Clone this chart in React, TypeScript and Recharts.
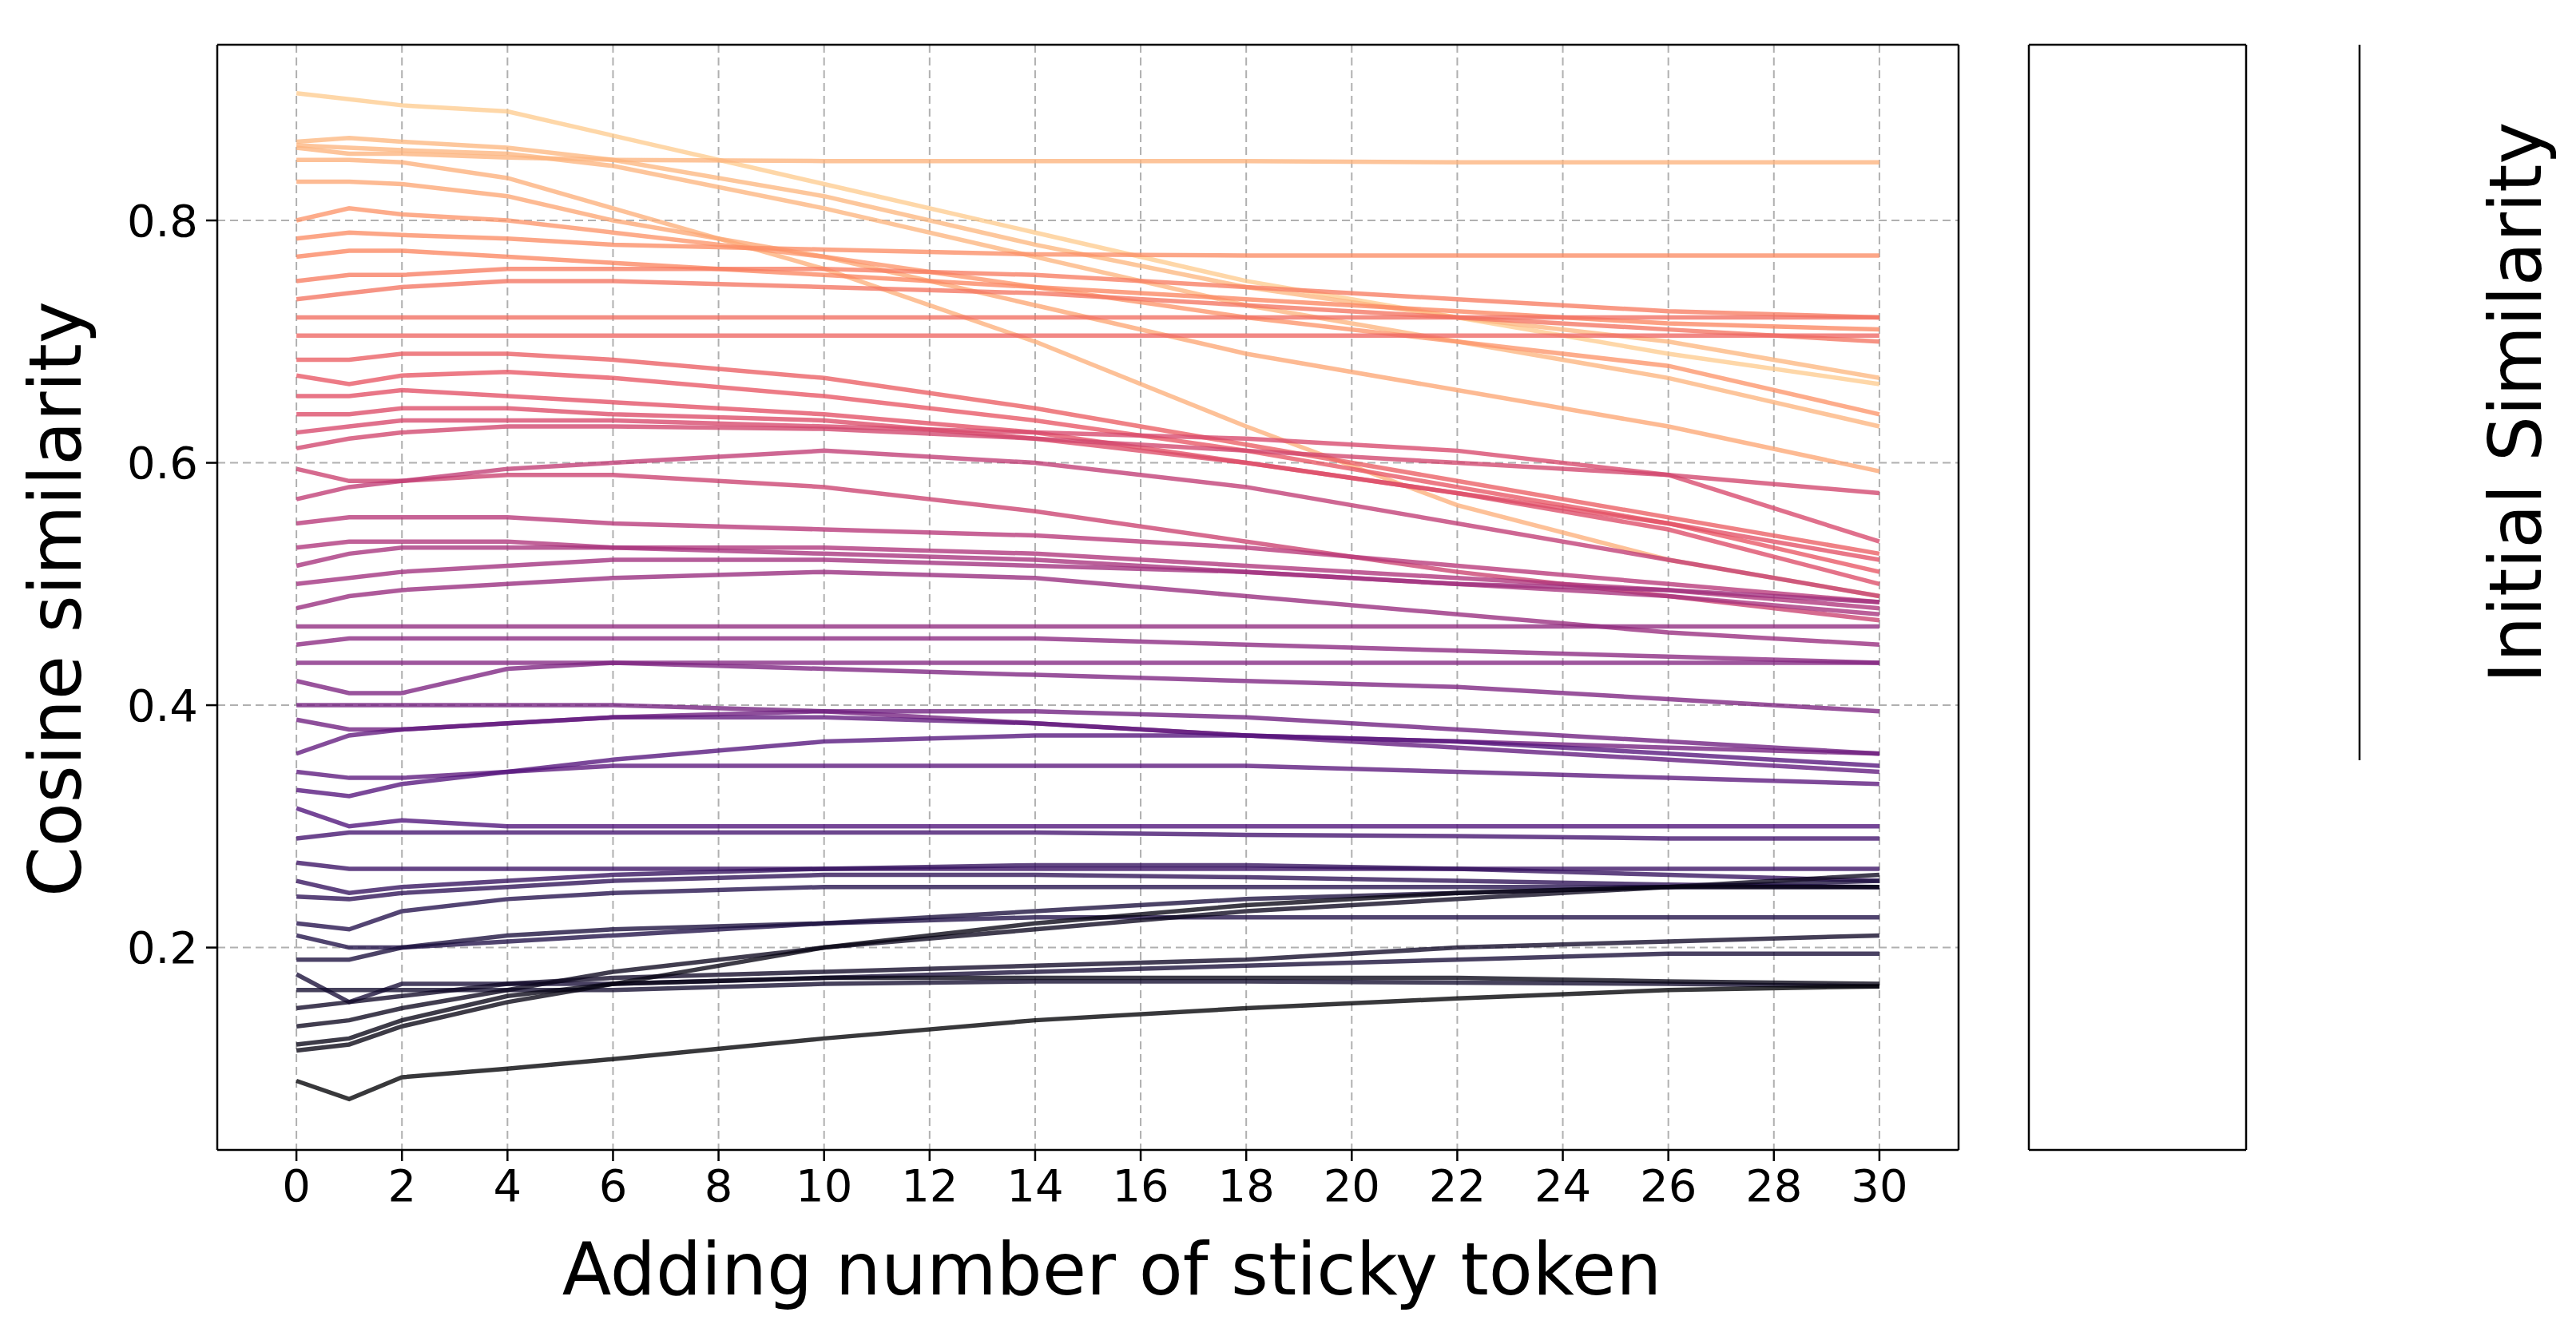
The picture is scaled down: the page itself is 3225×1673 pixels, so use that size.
import { LineChart, Line, XAxis, YAxis, CartesianGrid, ComposedChart, ReferenceArea, ReferenceLine } from 'recharts';

// sample positions along x (number of sticky tokens added)
const steps = [0, 1, 2, 4, 6, 10, 14, 18, 22, 26, 30];

// cosine similarity curves, one per token pair
const curves: number[][] = [
  [0.905, 0.9, 0.895, 0.89, 0.87, 0.83, 0.79, 0.75, 0.72, 0.69, 0.665],
  [0.865, 0.868, 0.865, 0.86, 0.85, 0.82, 0.78, 0.745, 0.72, 0.7, 0.67],
  [0.86, 0.855, 0.855, 0.852, 0.85, 0.849, 0.849, 0.849, 0.848, 0.848, 0.848],
  [0.862, 0.86, 0.858, 0.855, 0.845, 0.81, 0.77, 0.73, 0.7, 0.67, 0.63],
  [0.85, 0.85, 0.848, 0.835, 0.81, 0.76, 0.7, 0.63, 0.565, 0.52, 0.49],
  [0.832, 0.832, 0.83, 0.82, 0.8, 0.77, 0.73, 0.69, 0.66, 0.63, 0.593],
  [0.8, 0.81, 0.805, 0.8, 0.79, 0.77, 0.745, 0.72, 0.7, 0.68, 0.64],
  [0.785, 0.79, 0.788, 0.785, 0.78, 0.776, 0.772, 0.771, 0.771, 0.771, 0.771],
  [0.77, 0.775, 0.775, 0.77, 0.765, 0.755, 0.745, 0.735, 0.725, 0.715, 0.71],
  [0.75, 0.755, 0.755, 0.76, 0.76, 0.76, 0.755, 0.745, 0.735, 0.725, 0.72],
  [0.735, 0.74, 0.745, 0.75, 0.75, 0.745, 0.74, 0.73, 0.72, 0.71, 0.7],
  [0.72, 0.72, 0.72, 0.72, 0.72, 0.72, 0.72, 0.72, 0.72, 0.72, 0.72],
  [0.705, 0.705, 0.705, 0.705, 0.705, 0.705, 0.705, 0.705, 0.705, 0.705, 0.705],
  [0.685, 0.685, 0.69, 0.69, 0.685, 0.67, 0.645, 0.615, 0.585, 0.555, 0.525],
  [0.672, 0.665, 0.672, 0.675, 0.67, 0.655, 0.635, 0.61, 0.58, 0.55, 0.51],
  [0.655, 0.655, 0.66, 0.655, 0.65, 0.64, 0.625, 0.6, 0.575, 0.55, 0.52],
  [0.64, 0.64, 0.645, 0.645, 0.64, 0.635, 0.62, 0.6, 0.575, 0.545, 0.5],
  [0.625, 0.63, 0.635, 0.635, 0.635, 0.63, 0.625, 0.62, 0.61, 0.59, 0.535],
  [0.612, 0.62, 0.625, 0.63, 0.63, 0.628, 0.62, 0.61, 0.6, 0.59, 0.575],
  [0.595, 0.585, 0.585, 0.59, 0.59, 0.58, 0.56, 0.535, 0.51, 0.49, 0.47],
  [0.57, 0.58, 0.585, 0.595, 0.6, 0.61, 0.6, 0.58, 0.55, 0.52, 0.49],
  [0.55, 0.555, 0.555, 0.555, 0.55, 0.545, 0.54, 0.53, 0.515, 0.5, 0.485],
  [0.53, 0.535, 0.535, 0.535, 0.53, 0.53, 0.525, 0.515, 0.505, 0.495, 0.48],
  [0.515, 0.525, 0.53, 0.53, 0.53, 0.525, 0.52, 0.51, 0.5, 0.49, 0.475],
  [0.5, 0.505, 0.51, 0.515, 0.52, 0.52, 0.515, 0.51, 0.5, 0.495, 0.485],
  [0.48, 0.49, 0.495, 0.5, 0.505, 0.51, 0.505, 0.49, 0.475, 0.46, 0.45],
  [0.465, 0.465, 0.465, 0.465, 0.465, 0.465, 0.465, 0.465, 0.465, 0.465, 0.465],
  [0.45, 0.455, 0.455, 0.455, 0.455, 0.455, 0.455, 0.45, 0.445, 0.44, 0.435],
  [0.435, 0.435, 0.435, 0.435, 0.435, 0.435, 0.435, 0.435, 0.435, 0.435, 0.435],
  [0.42, 0.41, 0.41, 0.43, 0.435, 0.43, 0.425, 0.42, 0.415, 0.405, 0.395],
  [0.4, 0.4, 0.4, 0.4, 0.4, 0.395, 0.385, 0.375, 0.37, 0.365, 0.36],
  [0.388, 0.38, 0.38, 0.385, 0.39, 0.395, 0.395, 0.39, 0.38, 0.37, 0.36],
  [0.36, 0.375, 0.38, 0.385, 0.39, 0.39, 0.385, 0.375, 0.365, 0.355, 0.345],
  [0.345, 0.34, 0.34, 0.345, 0.35, 0.35, 0.35, 0.35, 0.345, 0.34, 0.335],
  [0.33, 0.325, 0.335, 0.345, 0.355, 0.37, 0.375, 0.375, 0.37, 0.36, 0.35],
  [0.315, 0.3, 0.305, 0.3, 0.3, 0.3, 0.3, 0.3, 0.3, 0.3, 0.3],
  [0.29, 0.295, 0.295, 0.295, 0.295, 0.295, 0.295, 0.293, 0.292, 0.29, 0.29],
  [0.27, 0.265, 0.265, 0.265, 0.265, 0.265, 0.265, 0.265, 0.265, 0.265, 0.265],
  [0.255, 0.245, 0.25, 0.255, 0.26, 0.265, 0.268, 0.268, 0.265, 0.26, 0.255],
  [0.242, 0.24, 0.245, 0.25, 0.255, 0.26, 0.26, 0.258, 0.255, 0.252, 0.25],
  [0.22, 0.215, 0.23, 0.24, 0.245, 0.25, 0.25, 0.25, 0.25, 0.25, 0.25],
  [0.21, 0.2, 0.2, 0.205, 0.21, 0.22, 0.225, 0.225, 0.225, 0.225, 0.225],
  [0.19, 0.19, 0.2, 0.21, 0.215, 0.22, 0.23, 0.24, 0.245, 0.25, 0.255],
  [0.178, 0.155, 0.17, 0.17, 0.17, 0.175, 0.18, 0.185, 0.19, 0.195, 0.195],
  [0.165, 0.165, 0.165, 0.165, 0.165, 0.17, 0.172, 0.172, 0.171, 0.17, 0.168],
  [0.15, 0.155, 0.16, 0.17, 0.175, 0.18, 0.185, 0.19, 0.2, 0.205, 0.21],
  [0.135, 0.14, 0.15, 0.165, 0.18, 0.2, 0.215, 0.23, 0.24, 0.25, 0.26],
  [0.12, 0.125, 0.14, 0.16, 0.17, 0.175, 0.175, 0.175, 0.175, 0.172, 0.17],
  [0.115, 0.12, 0.135, 0.155, 0.17, 0.2, 0.22, 0.235, 0.245, 0.25, 0.25],
  [0.09, 0.075, 0.093, 0.1, 0.108, 0.125, 0.14, 0.15, 0.158, 0.165, 0.168],
];

const xTicks = [0, 2, 4, 6, 8, 10, 12, 14, 16, 18, 20, 22, 24, 26, 28, 30];
const yTicks = [0.2, 0.4, 0.6, 0.8];
const cbarTicks = [0.2, 0.4, 0.6, 0.8, 1.0];

// box plot summary of all values
const boxStats = { min: 0.075, q1: 0.29, median: 0.465, q3: 0.65, max: 0.905 };

const magma = ['#000004', '#1c1044', '#4f127b', '#812581', '#b5367a', '#e55064', '#fb8761', '#fec287', '#fcfdbf'];
const VMIN = 0.09;
const VMAX = 1.0;

function hex(c: string) {
  return [1, 3, 5].map((i) => parseInt(c.slice(i, i + 2), 16));
}
function magmaColor(v: number) {
  const t = Math.min(1, Math.max(0, (v - VMIN) / (VMAX - VMIN))) * (magma.length - 1);
  const i = Math.min(magma.length - 2, Math.floor(t));
  const f = t - i;
  const a = hex(magma[i]);
  const b = hex(magma[i + 1]);
  const m = a.map((x, k) => Math.round(x + (b[k] - x) * f));
  return `rgb(${m[0]},${m[1]},${m[2]})`;
}

const tableData = steps.map((s, i) => {
  const row: Record<string, number> = { x: s };
  curves.forEach((c, k) => (row[`s${k}`] = c[i]));
  return row;
});

const FONT = 'DejaVu Sans, sans-serif';
const tick = { fill: '#000', fontSize: 56, fontFamily: FONT };
const Y_DOMAIN: [number, number] = [0.033, 0.945];
const labelStyle = { position: 'absolute' as const, fontSize: 90, lineHeight: '110px', whiteSpace: 'nowrap' as const };

export default function App() {
  return (
    <div style={{ position: 'absolute', left: 0, top: 0, width: 3225, height: 1673, background: '#fff', fontFamily: FONT }}>
      <div style={{ position: 'absolute', left: 0, top: 0 }}>
        <LineChart width={2470} height={1673} data={tableData} margin={{ top: 55, right: 17, bottom: 173, left: 122 }}>
          <CartesianGrid stroke="#b0b0b0" strokeDasharray="10 6" strokeWidth={2} horizontalValues={yTicks} verticalValues={xTicks} />
          <XAxis type="number" dataKey="x" domain={[-1.5, 31.5]} ticks={xTicks} tick={tick} tickSize={14} tickMargin={10} height={60}
            stroke="#000" strokeWidth={2.5} allowDataOverflow />
          <YAxis type="number" domain={Y_DOMAIN} ticks={yTicks} tick={tick} tickSize={14} tickMargin={10} width={150}
            stroke="#000" strokeWidth={2.5} allowDataOverflow tickFormatter={(v: number) => v.toFixed(1)} />
          <XAxis xAxisId="top" orientation="top" type="number" domain={[-1.5, 31.5]} tick={false} tickLine={false} stroke="#000" strokeWidth={2.5} height={1} />
          <YAxis yAxisId="right" orientation="right" domain={Y_DOMAIN} tick={false} tickLine={false} stroke="#000" strokeWidth={2.5} width={1} />
          {curves.map((c, k) => (
            <Line key={k} type="linear" dataKey={`s${k}`} stroke={magmaColor(c[0])} strokeOpacity={0.78} strokeWidth={5.5}
              dot={false} isAnimationActive={false} />
          ))}
        </LineChart>
      </div>

      <div style={{ position: 'absolute', left: 0, top: 0 }}>
        <ComposedChart width={2814} height={1673} data={[{ x: 0 }]} margin={{ top: 55, right: 1, bottom: 173, left: 2539 }}>
          <CartesianGrid stroke="#b0b0b0" strokeDasharray="10 6" strokeWidth={2} horizontalValues={yTicks} vertical={false} />
          <XAxis type="number" dataKey="x" domain={[-0.5, 0.5]} ticks={[0]} tick={false} tickSize={14} stroke="#000" strokeWidth={2.5} height={60} />
          <YAxis type="number" domain={Y_DOMAIN} ticks={yTicks} tick={false} tickSize={14} stroke="#000" strokeWidth={2.5} width={1} />
          <XAxis xAxisId="top" orientation="top" type="number" domain={[-0.5, 0.5]} tick={false} tickLine={false} stroke="#000" strokeWidth={2.5} height={1} />
          <YAxis yAxisId="right" orientation="right" domain={Y_DOMAIN} tick={false} tickLine={false} stroke="#000" strokeWidth={2.5} width={1} />
          <ReferenceLine segment={[{ x: 0, y: boxStats.min }, { x: 0, y: boxStats.q1 }]} stroke="#777" strokeWidth={2.5} />
          <ReferenceLine segment={[{ x: 0, y: boxStats.q3 }, { x: 0, y: boxStats.max }]} stroke="#777" strokeWidth={2.5} />
          <ReferenceLine segment={[{ x: -0.075, y: boxStats.min }, { x: 0.075, y: boxStats.min }]} stroke="#777" strokeWidth={2.5} />
          <ReferenceLine segment={[{ x: -0.075, y: boxStats.max }, { x: 0.075, y: boxStats.max }]} stroke="#777" strokeWidth={2.5} />
          <ReferenceArea x1={-0.15} x2={0.15} y1={boxStats.q1} y2={boxStats.q3} fill="#d2b3bb" fillOpacity={1} stroke="#777" strokeWidth={2.5} />
          <ReferenceLine segment={[{ x: -0.15, y: boxStats.median }, { x: 0.15, y: boxStats.median }]} stroke="#777" strokeWidth={2.5} />
        </ComposedChart>
      </div>

      <div style={{ position: 'absolute', left: 0, top: 0 }}>
        <ComposedChart width={3120} height={1673} data={[{ x: 0 }]} margin={{ top: 56, right: 165, bottom: 721, left: 2884 }}>
          <defs>
            <linearGradient id="magmaGrad" x1="0" y1="1" x2="0" y2="0">
              {magma.map((c, i) => (
                <stop key={i} offset={`${(i / (magma.length - 1)) * 100}%`} stopColor={c} />
              ))}
            </linearGradient>
          </defs>
          <XAxis type="number" dataKey="x" domain={[0, 1]} hide />
          <YAxis type="number" domain={[VMIN, VMAX]} hide />
          <YAxis yAxisId="cb" orientation="right" type="number" domain={[VMIN, VMAX]} ticks={cbarTicks} tick={tick} tickSize={14}
            tickMargin={10} stroke="#000" strokeWidth={2.5} width={1} tickFormatter={(v: number) => v.toFixed(1)} />
          <ReferenceArea x1={0} x2={1} y1={VMIN} y2={VMAX} fill="url(#magmaGrad)" fillOpacity={1} stroke="none" />
        </ComposedChart>
      </div>

      <div style={{ ...labelStyle, left: 662, top: 1535, width: 1460, textAlign: 'center' }}>
        Adding number of sticky token
      </div>
      <div style={{ position: 'absolute', left: 70, top: 750, width: 0, height: 0 }}>
        <div style={{ ...labelStyle, transform: 'translate(-50%, -50%) rotate(-90deg)' }}>Cosine similarity</div>
      </div>
      <div style={{ position: 'absolute', left: 3150, top: 504, width: 0, height: 0 }}>
        <div style={{ ...labelStyle, transform: 'translate(-50%, -50%) rotate(-90deg)' }}>Initial Similarity</div>
      </div>
    </div>
  );
}
